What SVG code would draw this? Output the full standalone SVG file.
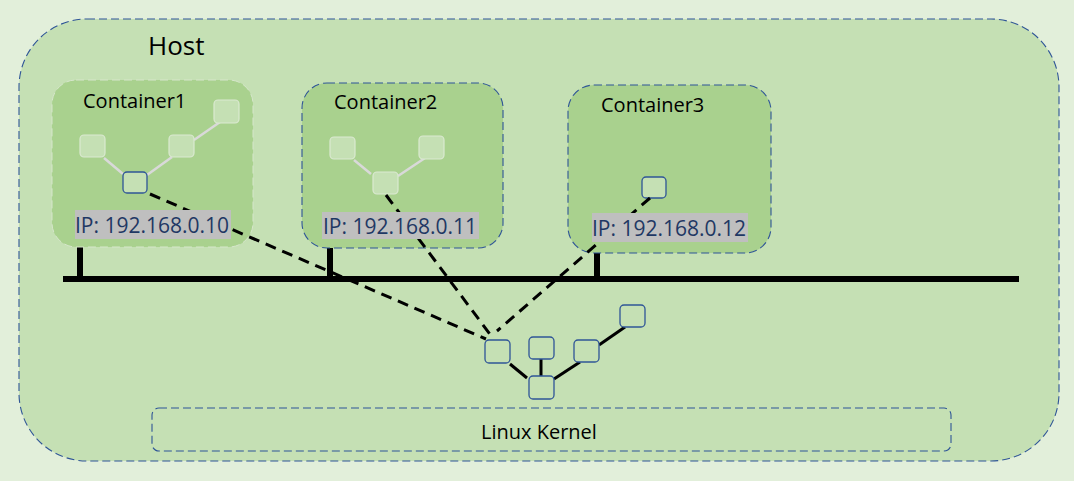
<svg xmlns="http://www.w3.org/2000/svg" width="1074" height="481" viewBox="0 0 1074 481">
<style>
.dash{fill:none;stroke:#2f5597;stroke-width:1.1;stroke-dasharray:8 4}
.cont{fill:#a9d18e}
.title{font-family:"Open Sans","Liberation Sans",sans-serif;font-size:20px;fill:#000}
.ip{font-family:"Open Sans","Liberation Sans",sans-serif;font-size:21px;fill:#1f3864}
.ipbg{fill:#bfbfbf}
.ln{fill:#c5e0b4;stroke:#dbe9d1;stroke-width:1.2}
.bn{fill:#c5e0b4;stroke:#2f5597;stroke-width:1.3}
.kn{fill:#c5e0b4;stroke:#2f5597;stroke-width:1.3}
.inner{stroke:#d9d9d9;stroke-width:2.5;fill:none}
.solid{stroke:#000;stroke-width:3;fill:none}
.bus{stroke:#000;stroke-width:6;fill:none}
.conn{stroke:#000;stroke-width:3;fill:none;stroke-dasharray:11 7}
</style>
<rect x="0" y="0" width="1074" height="481" fill="#e2efda"/>
<g id="host">
<rect x="19" y="19" width="1040" height="442" rx="68" ry="68" class="dash" style="fill:#c5e0b4"/>
<text x="148" y="55" font-family="Open Sans, Liberation Sans, sans-serif" font-size="26" fill="#000">Host</text>
</g>
<g id="kernel">
<rect x="152" y="408" width="799" height="43" rx="7" ry="7" class="dash"/>
<text x="481" y="439" class="title">Linux Kernel</text>
</g>
<g id="bus">
<line x1="63" y1="279" x2="1019" y2="279" class="bus"/>
<line x1="80" y1="246" x2="80" y2="279" class="bus"/>
<line x1="330" y1="247" x2="330" y2="279" class="bus"/>
<line x1="597" y1="252" x2="597" y2="279" class="bus"/>
</g>
<g id="container1">
<rect x="52" y="80" width="201" height="167" rx="24" ry="24" class="cont" stroke="#d6e6cb" stroke-width="1" stroke-dasharray="8 4"/>
<text x="83" y="108" class="title">Container1</text>
<line x1="104" y1="158" x2="123" y2="174" class="inner"/>
<line x1="147" y1="175" x2="172" y2="157" class="inner"/>
<line x1="194" y1="140" x2="220" y2="122" class="inner"/>
<rect x="80" y="135" width="25" height="22" rx="4" class="ln"/>
<rect x="169" y="135" width="25" height="22" rx="4" class="ln"/>
<rect x="214" y="100" width="25" height="23" rx="4" class="ln"/>
<rect x="123" y="172" width="24" height="21" rx="4" class="bn"/>
</g>
<g id="container2">
<rect x="302" y="83" width="201" height="165" rx="25" ry="25" class="dash" style="fill:#a9d18e"/>
<text x="334" y="109" class="title">Container2</text>
<line x1="354" y1="160" x2="371" y2="174" class="inner"/>
<line x1="398" y1="176" x2="425" y2="158" class="inner"/>
<rect x="330" y="137" width="25" height="22" rx="4" class="ln"/>
<rect x="419" y="136" width="25" height="23" rx="4" class="ln"/>
<rect x="373" y="172" width="25" height="22" rx="4" class="ln"/>
</g>
<g id="container3">
<rect x="568" y="85" width="203" height="168" rx="26" ry="26" class="dash" style="fill:#a9d18e"/>
<text x="601" y="112" class="title">Container3</text>
<rect x="642" y="177" width="24" height="21" rx="4" class="bn"/>
</g>
<g id="kernel-nodes">
<line x1="510" y1="364" x2="527" y2="378" class="solid"/>
<line x1="541" y1="359" x2="541" y2="376" class="solid"/>
<line x1="554" y1="379" x2="580" y2="362" class="solid"/>
<line x1="599" y1="345" x2="625" y2="327" class="solid"/>
<rect x="485" y="340" width="25" height="23" rx="4" class="kn"/>
<rect x="529" y="337" width="25" height="22" rx="4" class="kn"/>
<rect x="529" y="376" width="25" height="23" rx="4" class="kn"/>
<rect x="574" y="340" width="25" height="22" rx="4" class="kn"/>
<rect x="620" y="305" width="25" height="22" rx="4" class="kn"/>
</g>
<g id="connectors">
<line x1="150" y1="194" x2="486" y2="339" class="conn"/>
<line x1="386" y1="195" x2="492" y2="337" class="conn"/>
<line x1="650" y1="198" x2="497" y2="331" class="conn"/>
</g>
<g id="ip1">
<rect x="75" y="210" width="156" height="29" class="ipbg"/>
<text x="75" y="233" class="ip">IP: 192.168.0.10</text>
</g>
<g id="ip2">
<rect x="322" y="212" width="157" height="27" class="ipbg"/>
<text x="323" y="234" class="ip">IP: 192.168.0.11</text>
</g>
<g id="ip3">
<rect x="592" y="213" width="156" height="29" class="ipbg"/>
<text x="592" y="236" class="ip">IP: 192.168.0.12</text>
</g>
</svg>
